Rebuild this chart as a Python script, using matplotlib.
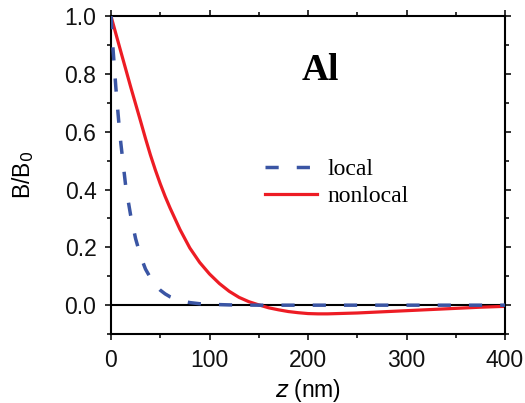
import numpy as np
import matplotlib
matplotlib.use('Agg')
import matplotlib.pyplot as plt
from matplotlib.ticker import MultipleLocator

# Data
z_local = [0, 2, 5, 8, 10, 13, 15, 18, 20, 25, 30, 35, 40, 45, 50, 55, 60, 70, 80, 90, 100, 120, 150, 200, 250, 300, 350, 400]
b_local = [1.0, 0.89, 0.75, 0.63, 0.56, 0.47, 0.41, 0.35, 0.31, 0.23, 0.17, 0.125, 0.095, 0.07, 0.052, 0.039, 0.029, 0.016, 0.009, 0.005, 0.003, 0.001, 0.0, 0.0, 0.0, 0.0, 0.0, 0.0]

z_nonlocal = [0, 10, 20, 30, 35, 40, 45, 50, 55, 60, 70, 80, 90, 100, 110, 120, 130, 140, 150, 160, 170, 180, 190, 200, 210, 220, 230, 250, 275, 300, 325, 350, 375, 400]
b_nonlocal = [1.0, 0.877, 0.755, 0.637, 0.577, 0.52, 0.468, 0.42, 0.376, 0.336, 0.262, 0.198, 0.148, 0.108, 0.075, 0.048, 0.027, 0.012, 0.001, -0.009, -0.016, -0.022, -0.026, -0.029, -0.030, -0.030, -0.029, -0.027, -0.023, -0.019, -0.015, -0.011, -0.007, -0.004]

plt.rcParams['font.family'] = ['Liberation Sans', 'DejaVu Sans']

fig = plt.figure(figsize=(5.25, 4.03), dpi=100)
ax = fig.add_axes([0.2114, 0.171, 0.7506, 0.789])

ax.axhline(0, color='black', lw=1.5, zorder=1)
ax.plot(z_local, b_local, color='#3a55a4', lw=2.5, dashes=(3.8, 5.2), label='local', zorder=3)
ax.plot(z_nonlocal, b_nonlocal, color='#ed1c24', lw=2.3, label='nonlocal', zorder=2)

ax.set_xlim(0, 400)
ax.set_ylim(-0.1, 1.0)
ax.xaxis.set_major_locator(MultipleLocator(100))
ax.xaxis.set_minor_locator(MultipleLocator(50))
ax.yaxis.set_minor_locator(MultipleLocator(0.1))
ax.set_yticks([0.0, 0.2, 0.4, 0.6, 0.8, 1.0])
ax.set_yticklabels(['0.0', '0.2', '0.4', '0.6', '0.8', '1.0'])

for s in ax.spines.values():
    s.set_linewidth(1.5)
ax.tick_params(which='both', direction='out', top=True, right=True, width=1.2, labelsize=16.5, colors='#111111')
ax.tick_params(which='major', length=4.5, pad=6)
ax.tick_params(which='minor', length=2.6)

ax.set_xlabel(r'$z$ (nm)', fontsize=16.5, labelpad=4)
ax.set_ylabel(r'B/B$_0$', fontsize=16.5)
ax.yaxis.set_label_coords(-0.19, 0.5)

ax.text(212, 0.78, 'Al', family='Liberation Serif', fontweight='bold', fontsize=27, ha='center', va='baseline')

leg = ax.legend(loc='upper left', bbox_to_anchor=(0.391, 0.552), frameon=False,
                prop={'family': 'Liberation Serif', 'size': 17},
                handlelength=2.2, handletextpad=0.45, labelspacing=0.22, borderpad=0, borderaxespad=0)

fig.savefig('out.png', dpi=100)
